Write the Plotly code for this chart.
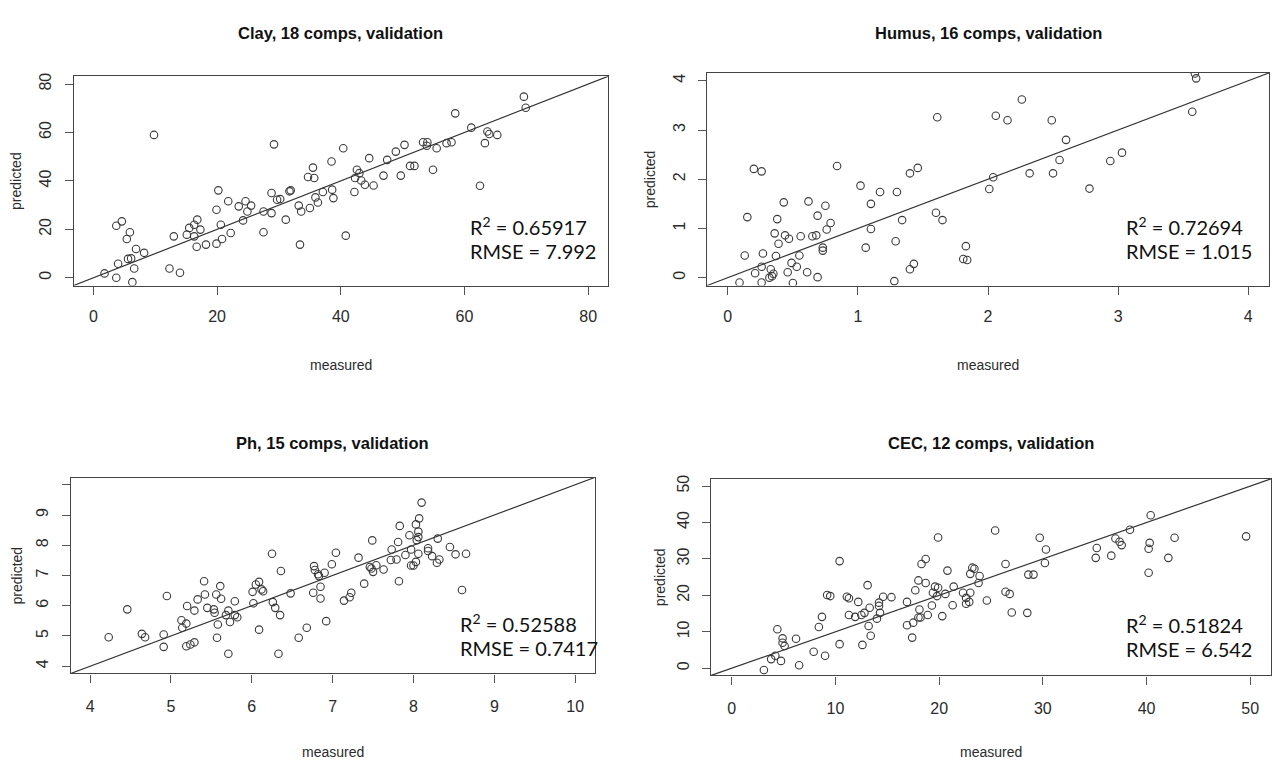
import plotly.graph_objects as go

W, H = 1275, 766

# ---- Clay ----
clay_measured = [9.8, 69.6, 69.9, 58.5, 61.1, 63.7, 64.0, 65.3, 63.3, 62.5, 53.3, 54.0, 53.9, 55.5, 57.1,
                 57.9, 54.9, 50.3, 48.9, 47.5, 51.2, 51.9, 49.7, 46.9, 44.6, 42.6, 43.0, 42.3, 43.3, 43.9,
                 45.3, 42.2, 40.4, 38.5, 35.5, 34.7, 35.7, 37.1, 38.6, 38.8, 35.9, 36.3, 35.0, 33.6, 33.2,
                 31.7, 31.9, 30.2, 29.7, 28.8, 29.2, 31.1, 28.8, 27.5, 27.5, 33.4, 40.8, 25.5, 24.6, 24.9,
                 23.5, 24.2, 21.8, 20.2, 19.9, 20.6, 22.2, 20.8, 19.9, 18.2, 16.7, 17.3, 16.8, 16.3, 15.5,
                 15.1, 16.3, 13.0, 12.3, 14.0, 4.6, 3.7, 5.9, 5.4, 6.9, 8.2, 5.6, 6.1, 4.0, 6.6,
                 1.8, 3.7, 6.3]
clay_predicted = [59.0, 74.8, 70.2, 67.9, 62.0, 60.4, 59.4, 59.0, 55.6, 38.0, 56.0, 56.0, 54.5, 53.5, 55.6,
                  56.0, 44.6, 54.9, 52.1, 48.7, 46.2, 46.2, 42.2, 42.2, 49.4, 44.6, 43.2, 41.2, 40.2, 38.4,
                  38.1, 35.4, 53.5, 48.0, 45.5, 41.6, 41.2, 35.4, 36.4, 32.9, 33.2, 31.1, 28.8, 27.4, 29.8,
                  35.7, 36.1, 32.5, 32.2, 35.0, 55.1, 24.0, 26.7, 27.4, 18.8, 13.7, 17.4, 29.8, 31.6, 27.4,
                  29.5, 23.7, 31.6, 36.1, 28.1, 21.9, 18.5, 16.0, 14.1, 13.7, 12.8, 19.9, 24.0, 21.9, 20.6,
                  17.8, 17.1, 17.1, 3.8, 2.1, 23.3, 21.5, 18.8, 16.0, 11.9, 10.3, 7.8, 8.0, 5.8, 3.8,
                  1.8, 0.0, -1.8]
clay_ticks = [0, 20, 40, 60, 80]
clay_ticklabels = ["0", "20", "40", "60", "80"]

# ---- Humus ----
humus_measured = [3.59, 3.60, 3.57, 2.26, 2.06, 2.15, 2.49, 1.61, 2.60, 2.55, 2.50, 2.32, 2.94, 3.03, 2.78,
                  2.04, 2.01, 1.40, 1.46, 0.84, 0.20, 0.26, 1.02, 1.17, 1.30, 1.10, 1.34, 1.60, 1.65, 1.10,
                  1.29, 1.06, 1.83, 1.81, 1.84, 1.43, 1.40, 1.28, 0.43, 0.62, 0.75, 0.69, 0.38, 0.15, 0.79,
                  0.76, 0.36, 0.44, 0.47, 0.56, 0.65, 0.68, 0.39, 0.73, 0.73, 0.13, 0.27, 0.37, 0.55, 0.49,
                  0.26, 0.33, 0.21, 0.35, 0.34, 0.32, 0.46, 0.53, 0.61, 0.69, 0.09, 0.26, 0.50]
humus_predicted = [4.15, 4.05, 3.37, 3.62, 3.29, 3.20, 3.20, 3.26, 2.80, 2.39, 2.12, 2.12, 2.37, 2.54, 1.81,
                   2.04, 1.80, 2.12, 2.23, 2.27, 2.21, 2.16, 1.87, 1.74, 1.74, 1.50, 1.17, 1.32, 1.17, 0.99,
                   0.74, 0.61, 0.64, 0.38, 0.36, 0.28, 0.17, -0.07, 1.53, 1.55, 1.46, 1.26, 1.19, 1.23, 1.11,
                   0.98, 0.90, 0.86, 0.79, 0.84, 0.84, 0.86, 0.69, 0.61, 0.55, 0.45, 0.49, 0.44, 0.45, 0.30,
                   0.22, 0.17, 0.09, 0.08, 0.03, 0.00, 0.11, 0.22, 0.11, 0.01, -0.10, -0.10, -0.11]
humus_ticks = [0, 1, 2, 3, 4]
humus_ticklabels = ["0", "1", "2", "3", "4"]

# ---- Ph ----
ph_measured = [8.10, 8.07, 8.03, 8.06, 8.06, 8.04, 7.83, 7.95, 7.81, 7.73, 7.97, 8.18, 8.18, 8.30, 8.45,
               8.52, 8.65, 8.23, 8.32, 8.29, 8.06, 7.90, 7.72, 7.79, 8.03, 7.97, 8.00, 7.82, 8.60, 7.49,
               7.32, 7.46, 7.48, 7.54, 7.63, 7.50, 7.39, 7.04, 6.99, 6.77, 6.78, 6.90, 6.83, 6.82, 6.85,
               6.76, 6.85, 7.23, 7.21, 7.14, 6.92, 6.68, 6.58, 6.25, 6.36, 6.48, 6.01, 6.05, 6.09, 6.12,
               6.14, 6.02, 6.26, 6.29, 6.35, 6.09, 6.33, 5.71, 5.41, 5.42, 5.61, 5.56, 5.62, 5.79, 5.45,
               5.53, 5.54, 5.71, 5.68, 5.79, 5.82, 5.73, 5.58, 5.57, 5.33, 5.29, 5.20, 5.13, 5.19, 5.14,
               5.19, 5.24, 5.29, 4.95, 4.91, 4.91, 4.64, 4.68, 4.46, 4.23]
ph_predicted = [9.41, 8.89, 8.69, 8.45, 8.27, 8.17, 8.64, 8.33, 8.11, 7.86, 7.86, 7.90, 7.81, 8.22, 7.94,
                7.70, 7.72, 7.64, 7.53, 7.42, 7.72, 7.68, 7.51, 7.53, 7.45, 7.33, 7.33, 6.81, 6.52, 8.16,
                7.59, 7.28, 7.23, 7.34, 7.20, 7.12, 6.73, 7.75, 7.37, 7.31, 7.18, 7.09, 6.98, 7.04, 6.63,
                6.43, 6.24, 6.43, 6.28, 6.17, 5.49, 5.27, 4.94, 7.72, 7.15, 6.41, 6.46, 6.70, 6.79, 6.54,
                6.48, 6.08, 6.12, 5.93, 5.69, 5.21, 4.41, 4.41, 6.81, 6.37, 6.65, 6.37, 6.23, 6.15, 5.93,
                5.88, 5.77, 5.84, 5.69, 5.69, 5.62, 5.46, 5.38, 4.94, 6.21, 5.84, 5.99, 5.52, 5.41, 5.27,
                4.66, 4.72, 4.79, 6.32, 5.05, 4.64, 5.07, 4.96, 5.88, 4.96]
ph_xticks = [4, 5, 6, 7, 8, 9, 10]
ph_xticklabels = ["4", "5", "6", "7", "8", "9", "10"]
ph_yticks = [4, 5, 6, 7, 8, 9]
ph_yticklabels = ["4", "5", "6", "7", "8", "9"]
ph_yunlabelled = [10]

# ---- CEC ----
cec_measured = [49.6, 40.4, 40.3, 40.2, 40.2, 42.7, 42.1, 38.4, 37.0, 37.4, 37.6, 35.2, 35.1, 36.6, 29.7,
                30.3, 30.2, 28.6, 29.1, 28.5, 25.4, 26.4, 26.4, 26.8, 27.0, 19.9, 18.3, 18.7, 18.0, 18.7,
                17.7, 20.8, 23.2, 23.4, 23.0, 23.9, 23.8, 21.4, 19.6, 19.9, 19.4, 20.6, 22.3, 23.0, 22.6,
                22.9, 22.6, 24.6, 19.8, 19.3, 21.3, 20.3, 18.1, 18.9, 16.9, 15.4, 14.6, 14.2, 14.2, 14.3,
                14.0, 13.3, 13.1, 12.2, 11.1, 11.3, 11.3, 11.9, 12.5, 12.8, 13.2, 13.4, 12.6, 10.4, 9.2,
                9.5, 8.7, 8.4, 10.4, 7.9, 9.0, 16.9, 17.5, 17.4, 18.0, 18.2, 4.4, 4.9, 4.9, 5.1,
                6.2, 3.8, 4.2, 4.75, 6.5, 3.1]
cec_predicted = [36.2, 42.0, 34.4, 32.8, 26.2, 35.8, 30.3, 38.0, 35.6, 34.7, 33.8, 33.0, 30.3, 30.9, 35.8,
                 32.6, 28.9, 25.7, 25.7, 15.2, 37.8, 28.6, 21.0, 20.4, 15.3, 35.9, 28.6, 30.0, 24.1, 23.4,
                 21.4, 26.8, 27.6, 27.3, 25.9, 25.3, 23.4, 22.4, 22.4, 22.1, 20.7, 20.4, 20.7, 20.7, 19.3,
                 18.2, 17.7, 18.6, 19.8, 17.2, 17.3, 14.3, 16.1, 14.6, 18.2, 19.5, 19.6, 18.0, 17.1, 15.2,
                 13.6, 16.6, 22.8, 18.2, 19.6, 19.2, 14.6, 14.1, 14.6, 15.2, 11.6, 8.9, 6.4, 29.4, 20.1,
                 19.8, 14.1, 11.3, 6.6, 4.5, 3.4, 11.8, 12.5, 8.4, 13.9, 13.9, 10.7, 8.2, 7.0, 6.1,
                 8.1, 2.5, 3.4, 2.0, 0.8, -0.5]
cec_ticks = [0, 10, 20, 30, 40, 50]
cec_ticklabels = ["0", "10", "20", "30", "40", "50"]

titles = ["Clay, 18 comps, validation", "Humus, 16 comps, validation",
          "Ph, 15 comps, validation", "CEC, 12 comps, validation"]
r2_values = ["0.65917", "0.72694", "0.52588", "0.51824"]
rmse_values = ["7.992", "1.015", "0.7417", "6.542"]
limits = [(0, 80), (0, 4), (4, 10), (0, 50)]

SANS = "Liberation Sans, Arial, sans-serif"
STATS_FONT = "Lato, Carlito, Open Sans, sans-serif"
INK = "#2b2b2b"
TICK_COLOR = "#555555"


def px_x(px):
    return px / W


def px_y(py):
    return 1 - py / H


# plot-box pixel rectangles (left, right, top, bottom) and text anchors
panels = [
    dict(x=clay_measured, y=clay_predicted, xt=(clay_ticks, clay_ticklabels), yt=(clay_ticks, clay_ticklabels),
         extra_y=[], box=(73.6, 608, 72.7, 283), title_y=29, xlab_y=363, ylab_x=16,
         xstand=8, stats=(468, 223)),
    dict(x=humus_measured, y=humus_predicted, xt=(humus_ticks, humus_ticklabels), yt=(humus_ticks, humus_ticklabels),
         extra_y=[], box=(707, 1269, 69.3, 283), title_y=29, xlab_y=363, ylab_x=650,
         xstand=8, stats=(1124, 223)),
    dict(x=ph_measured, y=ph_predicted, xt=(ph_xticks, ph_xticklabels), yt=(ph_yticks, ph_yticklabels),
         extra_y=ph_yunlabelled, box=(70.7, 594.6, 476, 673), title_y=441, xlab_y=752, ylab_x=16,
         xstand=10, stats=(458, 622)),
    dict(x=cec_measured, y=cec_predicted, xt=(cec_ticks, cec_ticklabels), yt=(cec_ticks, cec_ticklabels),
         extra_y=[], box=(711, 1271, 477.3, 675), title_y=441, xlab_y=752, ylab_x=660,
         xstand=10, stats=(1124, 623)),
]

fig = go.Figure()
annotations = []

for i, p in enumerate(panels):
    n = i + 1
    xa = "x" if n == 1 else f"x{n}"
    ya = "y" if n == 1 else f"y{n}"
    lo, hi = limits[i]
    pad = 0.04 * (hi - lo)
    rng = [lo - pad, hi + pad]
    left, right, top, bottom = p["box"]

    # 1:1 reference line
    fig.add_trace(go.Scatter(x=rng, y=rng, mode="lines", xaxis=xa, yaxis=ya,
                             line=dict(color="#333333", width=1.2), hoverinfo="skip", showlegend=False))
    # measured vs predicted
    fig.add_trace(go.Scatter(x=p["x"], y=p["y"], mode="markers", xaxis=xa, yaxis=ya, showlegend=False,
                             marker=dict(symbol="circle-open", size=7.5, color="#3a3a3a",
                                         line=dict(width=1.1, color="#3a3a3a"))))

    axis_common = dict(range=rng, showgrid=False, zeroline=False, showline=True, mirror=True,
                       linecolor="#444444", linewidth=1.2, ticks="outside", ticklen=8, tickwidth=1,
                       tickcolor=TICK_COLOR, tickfont=dict(family=SANS, size=16, color=INK))
    fig.layout[f"xaxis{'' if n == 1 else n}"] = dict(
        axis_common, domain=[px_x(left), px_x(right)], anchor=ya,
        tickmode="array", tickvals=p["xt"][0], ticktext=p["xt"][1], ticklabelstandoff=p["xstand"])
    yax = dict(axis_common, domain=[px_y(bottom), px_y(top)], anchor=xa,
               tickmode="array", tickvals=p["yt"][0], ticktext=p["yt"][1], tickangle=-90, ticklabelstandoff=7)
    if p["extra_y"]:
        # tick mark without a label at the top of the axis
        yax["minor"] = dict(tickmode="array", tickvals=p["extra_y"], ticks="outside", ticklen=8,
                            tickwidth=1, tickcolor=TICK_COLOR, showgrid=False)
    fig.layout[f"yaxis{'' if n == 1 else n}"] = yax

    cx = (left + right) / 2
    cy = (top + bottom) / 2
    annotations.append(dict(text=titles[i], x=px_x(cx), y=px_y(p["title_y"]), xref="paper", yref="paper",
                            showarrow=False, xanchor="center", yanchor="middle",
                            font=dict(family=SANS, size=16.5, color="#111111", weight="bold")))
    annotations.append(dict(text="measured", x=px_x(cx), y=px_y(p["xlab_y"]), xref="paper", yref="paper",
                            showarrow=False, xanchor="center", yanchor="middle",
                            font=dict(family=SANS, size=14, color=INK)))
    annotations.append(dict(text="predicted", x=px_x(p["ylab_x"]), y=px_y(cy), xref="paper", yref="paper",
                            showarrow=False, xanchor="center", yanchor="middle", textangle=-90,
                            font=dict(family=SANS, size=14, color=INK)))
    sx, sy = p["stats"]
    annotations.append(dict(text=f"R<sup>2</sup> = {r2_values[i]}", x=px_x(sx), y=px_y(sy),
                            xref="paper", yref="paper", showarrow=False, xanchor="left", yanchor="middle",
                            font=dict(family=STATS_FONT, size=20, color="#111111")))
    annotations.append(dict(text=f"RMSE = {rmse_values[i]}", x=px_x(sx), y=px_y(sy + 25),
                            xref="paper", yref="paper", showarrow=False, xanchor="left", yanchor="middle",
                            font=dict(family=STATS_FONT, size=20, color="#111111")))

fig.update_layout(width=W, height=H, margin=dict(l=0, r=0, t=0, b=0),
                  paper_bgcolor="white", plot_bgcolor="white", annotations=annotations)

fig.write_html("out.html")
